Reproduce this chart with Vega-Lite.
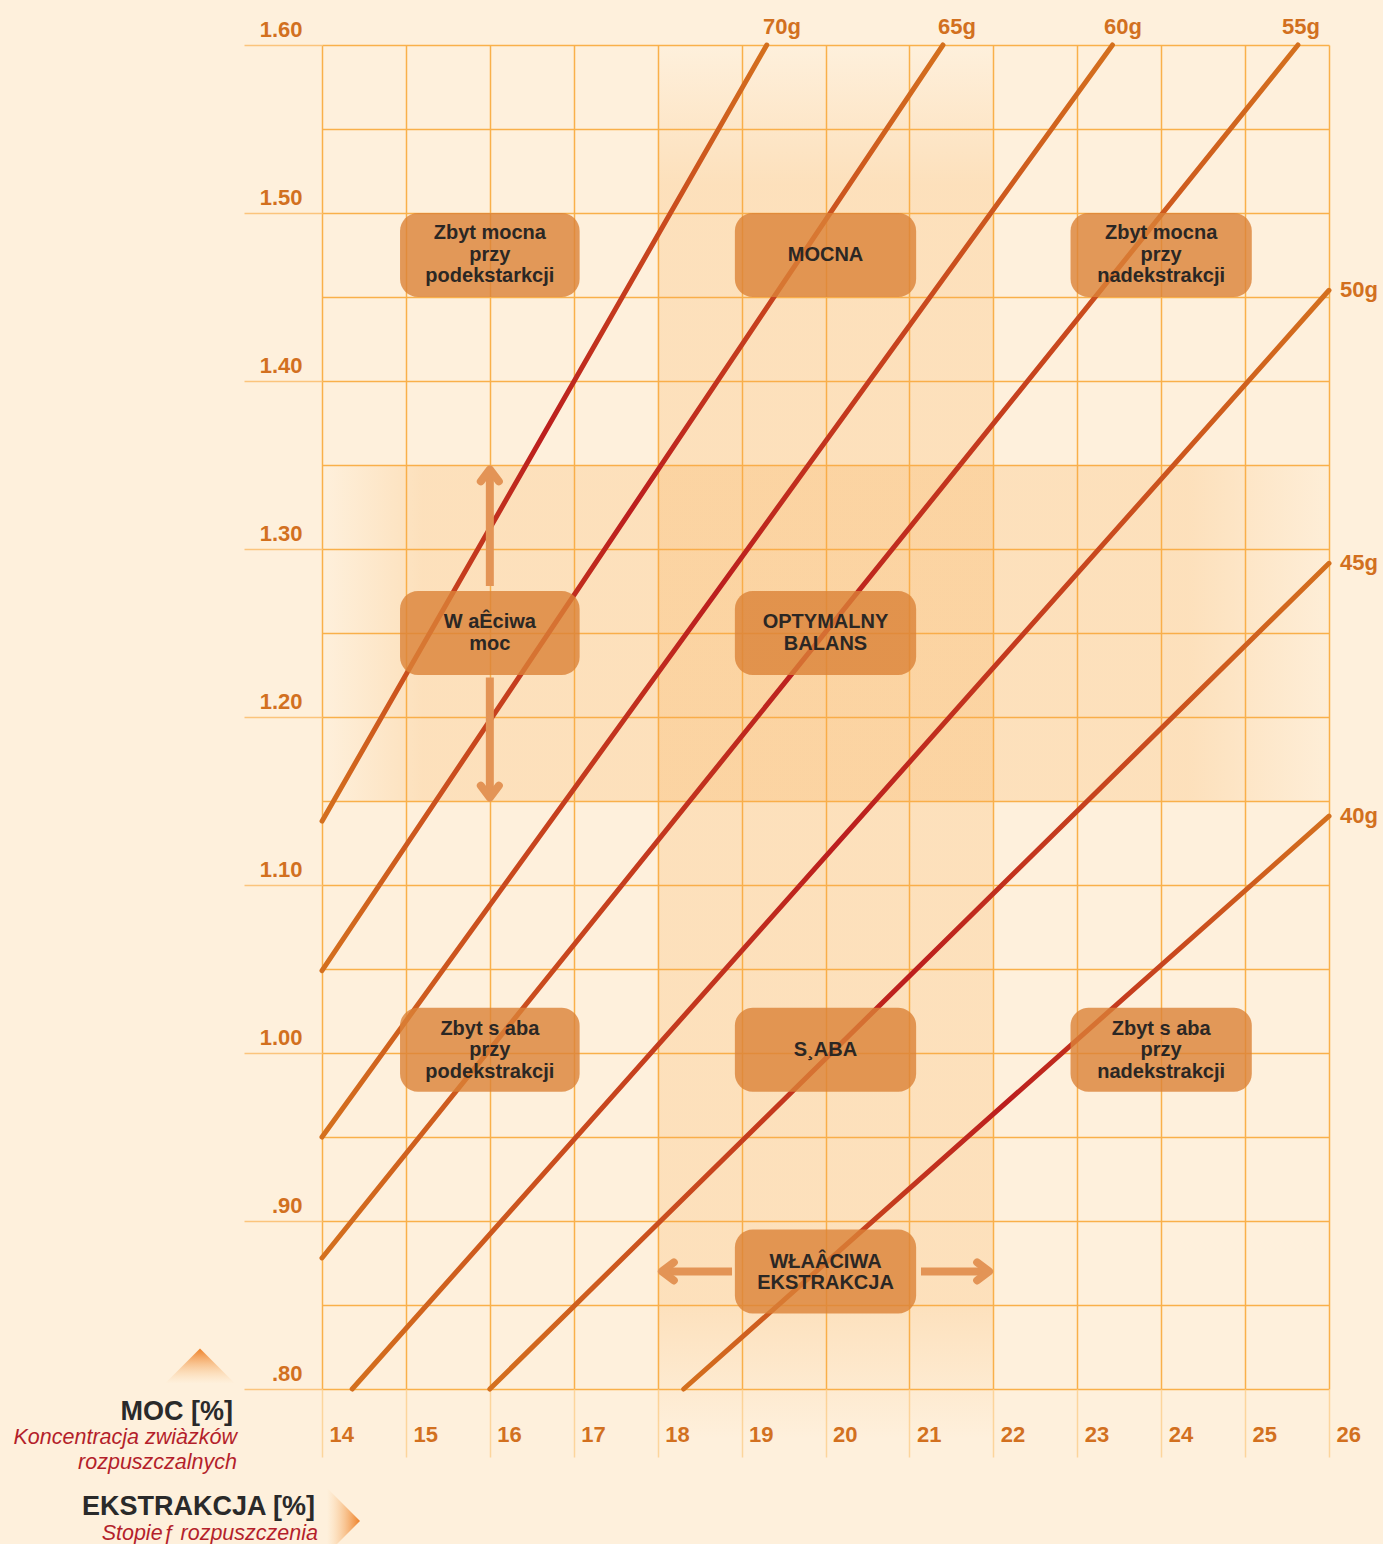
{
  "$schema": "https://vega.github.io/schema/vega-lite/v6.json",
  "width": 1007,
  "height": 1344,
  "autosize": "none",
  "padding": {"left": 322, "top": 45, "right": 54, "bottom": 155},
  "background": "#fef0dc",
  "config": {"view": {"stroke": null}, "font": "Liberation Sans"},
  "datasets": {
    "bands": [
      {"name": "v", "x": 18, "x2": 22, "y": 1.6, "y2": 0.77},
      {"name": "h", "x": 14, "x2": 26, "y": 1.35, "y2": 1.15}
    ],
    "lines": [
      {"series": "70g", "x": 14, "y": 1.138}, {"series": "70g", "x": 19.3, "y": 1.6},
      {"series": "65g", "x": 14, "y": 1.049}, {"series": "65g", "x": 21.4, "y": 1.6},
      {"series": "60g", "x": 14, "y": 0.95}, {"series": "60g", "x": 23.42, "y": 1.6},
      {"series": "55g", "x": 14, "y": 0.878}, {"series": "55g", "x": 25.63, "y": 1.6},
      {"series": "50g", "x": 14.36, "y": 0.8}, {"series": "50g", "x": 26, "y": 1.454},
      {"series": "45g", "x": 16.0, "y": 0.8}, {"series": "45g", "x": 26, "y": 1.2915},
      {"series": "40g", "x": 18.31, "y": 0.8}, {"series": "40g", "x": 26, "y": 1.141}
    ],
    "boxes": [
      {"x": 14.93, "x2": 17.07, "y": 1.5, "y2": 1.45, "cx": 16, "cy": 1.488, "label": "Zbyt mocna\nprzy\npodekstarkcji"},
      {"x": 18.92, "x2": 21.08, "y": 1.5, "y2": 1.45, "cx": 20, "cy": 1.475, "label": "MOCNA"},
      {"x": 22.92, "x2": 25.08, "y": 1.5, "y2": 1.45, "cx": 24, "cy": 1.488, "label": "Zbyt mocna\nprzy\nnadekstrakcji"},
      {"x": 14.93, "x2": 17.07, "y": 1.275, "y2": 1.225, "cx": 16, "cy": 1.2563, "label": "W aÊciwa\nmoc"},
      {"x": 18.92, "x2": 21.08, "y": 1.275, "y2": 1.225, "cx": 20, "cy": 1.2563, "label": "OPTYMALNY\nBALANS"},
      {"x": 14.93, "x2": 17.07, "y": 1.027, "y2": 0.977, "cx": 16, "cy": 1.0145, "label": "Zbyt s aba\nprzy\npodekstrakcji"},
      {"x": 18.92, "x2": 21.08, "y": 1.027, "y2": 0.977, "cx": 20, "cy": 1.002, "label": "S¸ABA"},
      {"x": 22.92, "x2": 25.08, "y": 1.027, "y2": 0.977, "cx": 24, "cy": 1.0145, "label": "Zbyt s aba\nprzy\nnadekstrakcji"},
      {"x": 18.92, "x2": 21.08, "y": 0.895, "y2": 0.845, "cx": 20, "cy": 0.8757, "label": "WŁAÂCIWA\nEKSTRAKCJA"}
    ],
    "shafts": [
      {"x": 16, "x2": 16, "y": 1.345, "y2": 1.278},
      {"x": 16, "x2": 16, "y": 1.2235, "y2": 1.154},
      {"x": 18.08, "x2": 18.886, "y": 0.87, "y2": 0.87},
      {"x": 21.138, "x2": 21.92, "y": 0.87, "y2": 0.87}
    ],
    "heads": [
      {"dir": "up", "x": 16, "y": 1.3474},
      {"dir": "down", "x": 16, "y": 1.152},
      {"dir": "left", "x": 18.05, "y": 0.87},
      {"dir": "right", "x": 21.95, "y": 0.87}
    ],
    "glabels": [
      {"label": "70g", "side": "top", "x": 19.255, "y": 1.6},
      {"label": "65g", "side": "top", "x": 21.34, "y": 1.6},
      {"label": "60g", "side": "top", "x": 23.32, "y": 1.6},
      {"label": "55g", "side": "top", "x": 25.44, "y": 1.6},
      {"label": "50g", "side": "right", "x": 26, "y": 1.454},
      {"label": "45g", "side": "right", "x": 26, "y": 1.2915},
      {"label": "40g", "side": "right", "x": 26, "y": 1.141}
    ],
    "notes": [
      {"text": "MOC [%]", "kind": "bold", "x": 12.939, "y": 0.7815},
      {"text": "Koncentracja zwiàzków", "kind": "italic", "x": 12.987, "y": 0.7672},
      {"text": "rozpuszczalnych", "kind": "italic", "x": 12.987, "y": 0.7523},
      {"text": "EKSTRAKCJA [%]", "kind": "bold", "x": 13.917, "y": 0.7252},
      {"text": "Stopieƒ rozpuszczenia", "kind": "italic", "x": 13.952, "y": 0.7101}
    ],
    "tris": [
      {"dir": "up", "x": 12.546, "y": 0.8137},
      {"dir": "right", "x": 14.256, "y": 0.7214}
    ]
  },
  "layer": [
    {
      "data": {"name": "bands"},
      "transform": [{"filter": "datum.name == 'v'"}],
      "mark": {"type": "rect", "fill": {"gradient": "linear", "x1": 0, "y1": 0, "x2": 0, "y2": 1, "stops": [
        {"offset": 0, "color": "rgba(248,168,72,0)"},
        {"offset": 0.1, "color": "rgba(248,168,72,0.22)"},
        {"offset": 0.9, "color": "rgba(248,168,72,0.22)"},
        {"offset": 1, "color": "rgba(248,168,72,0)"}]}},
      "encoding": {
        "x": {"field": "x", "type": "quantitative", "scale": {"domain": [14, 26], "nice": false, "zero": false},
          "axis": {"values": [14, 15, 16, 17, 18, 19, 20, 21, 22, 23, 24, 25, 26], "format": "d", "title": null, "domain": false,
            "grid": true, "gridColor": "#f9b04a", "gridWidth": 1.5,
            "ticks": true, "tickSize": 68, "tickColor": "#fcd59c", "tickWidth": 1.5,
            "labelAlign": "left", "labelBaseline": "alphabetic", "labelOffset": 7, "labelPadding": -16,
            "labelFont": "Liberation Sans", "labelFontWeight": "bold", "labelFontSize": 22, "labelColor": "#d2701f",
            "labelFlush": false, "labelOverlap": false}},
        "x2": {"field": "x2"},
        "y": {"field": "y", "type": "quantitative", "scale": {"domain": [0.8, 1.6], "nice": false, "zero": false},
          "axis": {"values": [0.8, 0.85, 0.9, 0.95, 1.0, 1.05, 1.1, 1.15, 1.2, 1.25, 1.3, 1.35, 1.4, 1.45, 1.5, 1.55, 1.6],
            "title": null, "domain": false,
            "grid": true, "gridColor": "#f9b04a", "gridWidth": 1.5,
            "ticks": true, "tickSize": 78, "tickColor": "#fbc47c", "tickWidth": 1.5,
            "tickOpacity": {"condition": {"test": "round(datum.value*100) % 10 != 0", "value": 0}, "value": 1},
            "labelExpr": "round(datum.value*100) % 10 != 0 ? '' : (datum.value < 1 ? slice(format(datum.value, '.2f'), 1) : format(datum.value, '.2f'))",
            "labelAlign": "right", "labelBaseline": "alphabetic", "labelOffset": -9, "labelPadding": -58,
            "labelFont": "Liberation Sans", "labelFontWeight": "bold", "labelFontSize": 22, "labelColor": "#d2701f",
            "labelFlush": false, "labelOverlap": false}},
        "y2": {"field": "y2"}
      }
    },
    {
      "data": {"name": "bands"},
      "transform": [{"filter": "datum.name == 'h'"}],
      "mark": {"type": "rect", "fill": {"gradient": "linear", "x1": 0, "y1": 0, "x2": 1, "y2": 0, "stops": [
        {"offset": 0, "color": "rgba(248,168,72,0)"},
        {"offset": 0.1, "color": "rgba(248,168,72,0.22)"},
        {"offset": 0.86, "color": "rgba(248,168,72,0.22)"},
        {"offset": 1, "color": "rgba(248,168,72,0.03)"}]}},
      "encoding": {
        "x": {"field": "x", "type": "quantitative", "title": null},
        "x2": {"field": "x2"},
        "y": {"field": "y", "type": "quantitative", "title": null},
        "y2": {"field": "y2"}
      }
    },
    {
      "data": {"name": "lines"},
      "mark": {"type": "line", "strokeWidth": 5, "strokeCap": "round", "stroke": {"gradient": "linear", "x1": 0, "y1": 0, "x2": 1, "y2": 0, "stops": [
        {"offset": 0, "color": "#d4701e"},
        {"offset": 0.5, "color": "#bc1e1e"},
        {"offset": 1, "color": "#d4701e"}]}},
      "encoding": {
        "x": {"field": "x", "type": "quantitative", "title": null},
        "y": {"field": "y", "type": "quantitative", "title": null},
        "detail": {"field": "series", "type": "nominal"}
      }
    },
    {
      "data": {"name": "boxes"},
      "mark": {"type": "rect", "color": "#db8237", "opacity": 0.8, "cornerRadius": 18},
      "encoding": {
        "x": {"field": "x", "type": "quantitative", "title": null},
        "x2": {"field": "x2"},
        "y": {"field": "y", "type": "quantitative", "title": null},
        "y2": {"field": "y2"}
      }
    },
    {
      "data": {"name": "boxes"},
      "mark": {"type": "text", "lineBreak": "\n", "lineHeight": 21.5, "font": "Liberation Sans", "fontWeight": "bold", "fontSize": 20, "color": "#2b2724", "align": "center", "baseline": "middle"},
      "encoding": {
        "x": {"field": "cx", "type": "quantitative", "title": null},
        "y": {"field": "cy", "type": "quantitative", "title": null},
        "text": {"field": "label"}
      }
    },
    {
      "data": {"name": "shafts"},
      "mark": {"type": "rule", "color": "#e39456", "strokeWidth": 8},
      "encoding": {
        "x": {"field": "x", "type": "quantitative", "title": null},
        "x2": {"field": "x2"},
        "y": {"field": "y", "type": "quantitative", "title": null},
        "y2": {"field": "y2"}
      }
    },
    {
      "data": {"name": "heads"},
      "transform": [{"filter": "datum.dir == 'up'"}],
      "mark": {"type": "point", "shape": "M-1,1.33L0,0L1,1.33", "size": 324, "filled": false, "color": "#e39456", "opacity": 1, "strokeWidth": 8, "strokeCap": "round", "strokeJoin": "round"},
      "encoding": {"x": {"field": "x", "type": "quantitative", "title": null}, "y": {"field": "y", "type": "quantitative", "title": null}}
    },
    {
      "data": {"name": "heads"},
      "transform": [{"filter": "datum.dir == 'down'"}],
      "mark": {"type": "point", "shape": "M-1,-1.33L0,0L1,-1.33", "size": 324, "filled": false, "color": "#e39456", "opacity": 1, "strokeWidth": 8, "strokeCap": "round", "strokeJoin": "round"},
      "encoding": {"x": {"field": "x", "type": "quantitative", "title": null}, "y": {"field": "y", "type": "quantitative", "title": null}}
    },
    {
      "data": {"name": "heads"},
      "transform": [{"filter": "datum.dir == 'left'"}],
      "mark": {"type": "point", "shape": "M1.33,-1L0,0L1.33,1", "size": 324, "filled": false, "color": "#e39456", "opacity": 1, "strokeWidth": 8, "strokeCap": "round", "strokeJoin": "round"},
      "encoding": {"x": {"field": "x", "type": "quantitative", "title": null}, "y": {"field": "y", "type": "quantitative", "title": null}}
    },
    {
      "data": {"name": "heads"},
      "transform": [{"filter": "datum.dir == 'right'"}],
      "mark": {"type": "point", "shape": "M-1.33,-1L0,0L-1.33,1", "size": 324, "filled": false, "color": "#e39456", "opacity": 1, "strokeWidth": 8, "strokeCap": "round", "strokeJoin": "round"},
      "encoding": {"x": {"field": "x", "type": "quantitative", "title": null}, "y": {"field": "y", "type": "quantitative", "title": null}}
    },
    {
      "data": {"name": "glabels"},
      "transform": [{"filter": "datum.side == 'top'"}],
      "mark": {"type": "text", "align": "left", "baseline": "alphabetic", "dy": -11, "font": "Liberation Sans", "fontWeight": "bold", "fontSize": 22, "color": "#d2701f"},
      "encoding": {"x": {"field": "x", "type": "quantitative", "title": null}, "y": {"field": "y", "type": "quantitative", "title": null}, "text": {"field": "label"}}
    },
    {
      "data": {"name": "glabels"},
      "transform": [{"filter": "datum.side == 'right'"}],
      "mark": {"type": "text", "align": "left", "baseline": "middle", "dx": 11, "font": "Liberation Sans", "fontWeight": "bold", "fontSize": 22, "color": "#d2701f"},
      "encoding": {"x": {"field": "x", "type": "quantitative", "title": null}, "y": {"field": "y", "type": "quantitative", "title": null}, "text": {"field": "label"}}
    },
    {
      "data": {"name": "notes"},
      "transform": [{"filter": "datum.kind == 'bold'"}],
      "mark": {"type": "text", "align": "right", "baseline": "alphabetic", "font": "Liberation Sans", "fontWeight": "bold", "fontSize": 27, "color": "#2a2a2a"},
      "encoding": {"x": {"field": "x", "type": "quantitative", "title": null}, "y": {"field": "y", "type": "quantitative", "title": null}, "text": {"field": "text"}}
    },
    {
      "data": {"name": "notes"},
      "transform": [{"filter": "datum.kind == 'italic'"}],
      "mark": {"type": "text", "align": "right", "baseline": "alphabetic", "font": "Liberation Sans", "fontStyle": "italic", "fontSize": 21.5, "color": "#b41f2b"},
      "encoding": {"x": {"field": "x", "type": "quantitative", "title": null}, "y": {"field": "y", "type": "quantitative", "title": null}, "text": {"field": "text"}}
    },
    {
      "data": {"name": "tris"},
      "transform": [{"filter": "datum.dir == 'up'"}],
      "mark": {"type": "point", "shape": "M-1,0.5L0,-0.5L1,0.5Z", "size": 4900, "filled": true, "opacity": 1, "fill": {"gradient": "linear", "x1": 0, "y1": 0, "x2": 0, "y2": 1, "stops": [
        {"offset": 0, "color": "rgba(238,128,40,1)"},
        {"offset": 1, "color": "rgba(250,200,140,0)"}]}},
      "encoding": {"x": {"field": "x", "type": "quantitative", "title": null}, "y": {"field": "y", "type": "quantitative", "title": null}}
    },
    {
      "data": {"name": "tris"},
      "transform": [{"filter": "datum.dir == 'right'"}],
      "mark": {"type": "point", "shape": "M-0.5,-1L0.5,0L-0.5,1Z", "size": 4356, "filled": true, "opacity": 1, "fill": {"gradient": "linear", "x1": 0, "y1": 0, "x2": 1, "y2": 0, "stops": [
        {"offset": 0, "color": "rgba(250,200,140,0)"},
        {"offset": 1, "color": "rgba(238,128,40,1)"}]}},
      "encoding": {"x": {"field": "x", "type": "quantitative", "title": null}, "y": {"field": "y", "type": "quantitative", "title": null}}
    }
  ]
}
